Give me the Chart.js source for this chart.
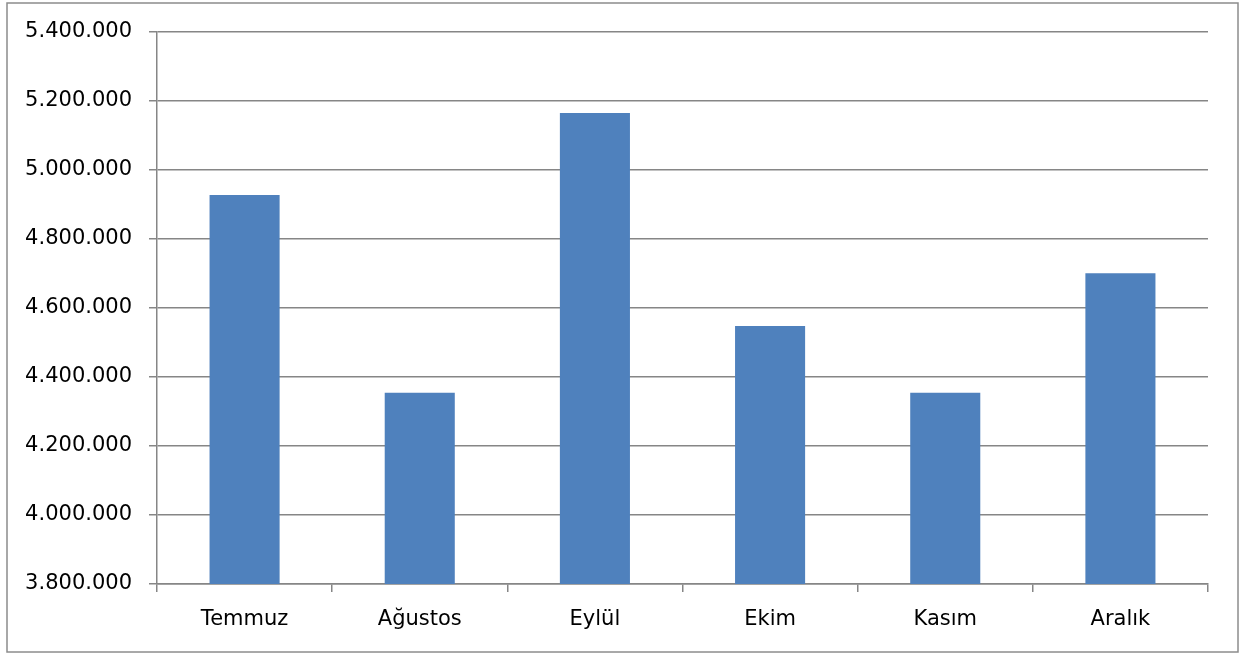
<!DOCTYPE html>
<html>
<head>
<meta charset="utf-8">
<script src="https://cdn.jsdelivr.net/npm/chart.js@4/dist/chart.umd.min.js"></script>
<style>
  html, body { margin: 0; padding: 0; background: #fff; }
  #wrap { position: relative; width: 1241px; height: 653px; }
</style>
</head>
<body>
<div id="wrap"><canvas id="chart" width="1241" height="653"></canvas></div>
<script>
// Data
const months = ['Temmuz', 'Ağustos', 'Eylül', 'Ekim', 'Kasım', 'Aralık'];
const values = [4927500, 4354000, 5165000, 4548000, 4354000, 4701000];
const yMin = 3800000;
const yMax = 5400000;
const yStep = 200000;

const gridColor = '#868686';

// thousands with dots, e.g. 5.400.000
function fmt(v) {
    return String(Math.round(v)).replace(/\B(?=(\d{3})+(?!\d))/g, '.');
}

// outer frame around the whole chart
const frame = {
    id: 'frame',
    afterDraw(chart) {
        const ctx = chart.ctx;
        ctx.save();
        ctx.strokeStyle = '#8c8c8c';
        ctx.lineWidth = 1.5;
        ctx.strokeRect(7, 3, 1231, 649);
        ctx.restore();
    }
};

new Chart(document.getElementById('chart'), {
    type: 'bar',
    data: {
        labels: months,
        datasets: [{
            data: values,
            backgroundColor: '#4f81bd',
            borderWidth: 0,
            barPercentage: 0.4,
            categoryPercentage: 1.0
        }]
    },
    options: {
        responsive: false,
        animation: false,
        layout: { padding: { top: 32, right: 33, bottom: 0, left: 0 } },
        plugins: {
            legend: { display: false },
            tooltip: { enabled: false }
        },
        scales: {
            x: {
                grid: {
                    offset: true,
                    drawOnChartArea: false,
                    drawTicks: true,
                    tickLength: 8,
                    color: gridColor,
                    lineWidth: 1.5
                },
                border: { display: true, color: gridColor, width: 1.5 },
                ticks: {
                    color: '#000',
                    padding: 15,
                    font: { family: 'DejaVu Sans', size: 21 }
                },
                afterFit(scale) { scale.height = 69; }
            },
            y: {
                min: yMin,
                max: yMax,
                grid: {
                    color: gridColor,
                    lineWidth: 1.5,
                    drawTicks: true,
                    tickLength: 8
                },
                border: { display: true, color: gridColor, width: 1.5 },
                ticks: {
                    stepSize: yStep,
                    color: '#000',
                    padding: 17,
                    font: { family: 'DejaVu Sans', size: 21 },
                    callback: v => fmt(v)
                },
                afterFit(scale) { scale.width = 157; }
            }
        }
    },
    plugins: [frame]
});
</script>
</body>
</html>
